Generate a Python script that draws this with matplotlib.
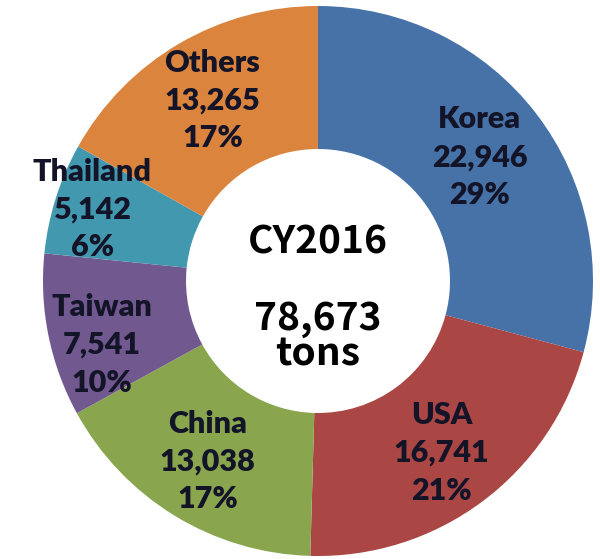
import numpy as np
import matplotlib.pyplot as plt

# Shipments by destination, calendar year 2016 (tons)
countries = ["Korea", "USA", "China", "Taiwan", "Thailand", "Others"]
tons = [22946, 16741, 13038, 7541, 5142, 13265]
shares = [29, 21, 17, 10, 6, 17]  # percent, as published
colors = ["#4672A8", "#AA4643", "#89A54E", "#71588F", "#4198AF", "#DB843D"]

# label placement: distance from centre (fraction of radius) and angle nudge
label_r = [0.74, 0.77, 0.77, 0.82, 0.86, 0.76]
label_da = [0, -1, 0, 5, 0, 0]

total = sum(tons)

fig = plt.figure(figsize=(6.0, 5.59), dpi=100)
ax = fig.add_axes([0, 0, 1, 1])

wedges, _ = ax.pie(tons, colors=colors, startangle=90, counterclock=False,
                   radius=1.0, wedgeprops=dict(width=0.52, linewidth=0))

for w, name, val, pct, r, da in zip(wedges, countries, tons, shares, label_r, label_da):
    mid = np.deg2rad((w.theta1 + w.theta2) / 2 + da)
    ax.text(r * np.cos(mid), r * np.sin(mid), f"{name}\n{val:,}\n{pct}%",
            ha="center", va="center", fontsize=22, fontweight="heavy",
            family="Lato", color="#141428", linespacing=1.42)

# centre caption
ax.text(0, 0.14, "CY2016", ha="center", va="center", fontsize=28,
        fontweight="bold", family="Noto Sans CJK JP")
ax.text(0, -0.2, f"{total:,}\ntons", ha="center", va="center", fontsize=28,
        fontweight="bold", family="Noto Sans CJK JP", linespacing=0.9)

# centre the ring where it sits in the frame
cx, cy, rad = 318, 281, 275
ax.set_xlim(-cx / rad, (600 - cx) / rad)
ax.set_ylim(-(559 - cy) / rad, cy / rad)
ax.set_aspect("auto")
ax.axis("off")

plt.savefig("out.png", dpi=100)
